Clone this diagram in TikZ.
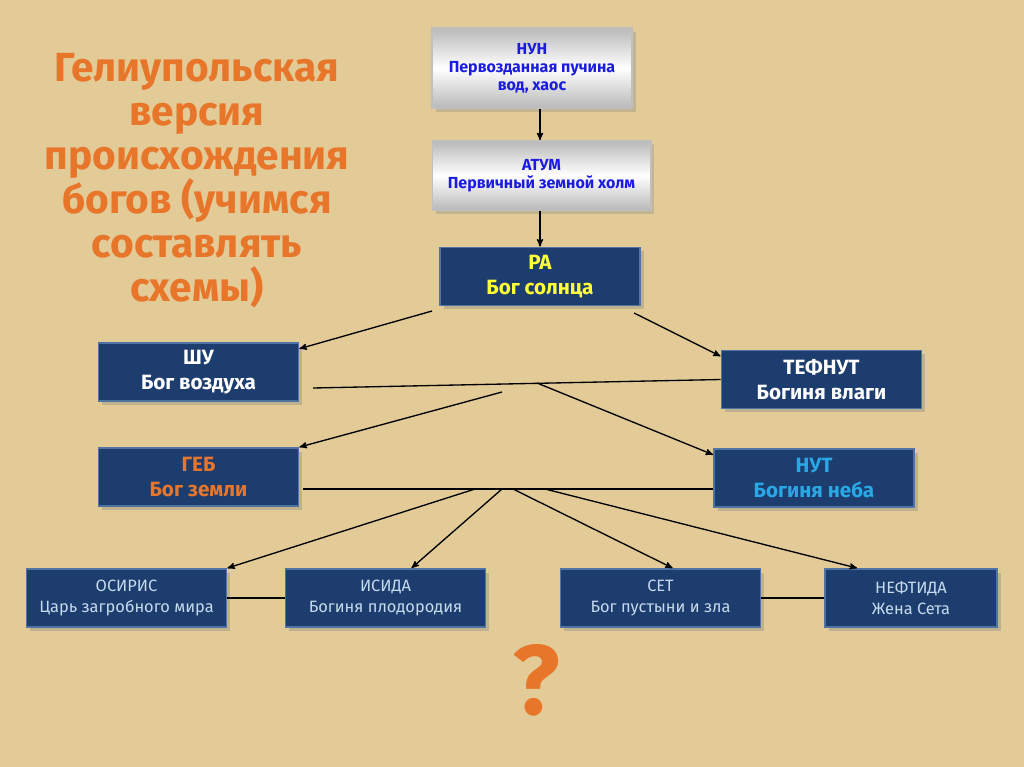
\documentclass[tikz,border=0pt]{standalone}
\usepackage{fontspec}
\setmainfont{Fira Sans}
\usetikzlibrary{positioning,arrows,calc,shadows}
\definecolor{papyrus}{HTML}{E2CB97}
\definecolor{godblue}{HTML}{1D3D6E}
\definecolor{godrim}{HTML}{4F73A3}
\definecolor{orangetxt}{HTML}{E8762A}
\definecolor{skytxt}{HTML}{2AA8E6}
\definecolor{paletxt}{HTML}{C6DAEE}
\definecolor{sunyellow}{HTML}{FFFF3A}
\definecolor{inkblue}{HTML}{1C1CE0}

\begin{document}
\begin{tikzpicture}[x=0.75pt, y=-0.75pt, >=stealth', line width=1pt,
godbox/.style={fill=godblue, draw=godrim, line width=1.4pt, align=center, text centered,
  minimum width=150pt, minimum height=43.5pt, inner sep=2pt,
  font=\fontsize{15.5}{19}\selectfont\bfseries, drop shadow={opacity=.35}},
lowbox/.style={godbox, text=paletxt, font=\fontsize{12.3}{16}\selectfont},
greybox/.style={draw=gray!50, line width=1pt, top color=gray!55, bottom color=gray!55,
  middle color=white, align=center, text=inkblue, inner sep=2pt,
  font=\fontsize{12}{13.5}\selectfont\bfseries, drop shadow={opacity=.3}},
headline/.style={align=center, text=orangetxt, font=\fontsize{30.5}{33}\selectfont\bfseries}
]
\fill[papyrus] (0,0) rectangle (1024,767);

\node (title) [headline] at (197,181) {Гелиупольская\\версия\\происхождения\\богов (учимся\\составлять\\схемы)};

\node (nun) [greybox, minimum width=150pt, minimum height=60pt] at (532,68) {НУН\\Первозданная пучина\\вод, хаос};
\node (atum) [greybox, minimum width=164pt, minimum height=52pt] at (541.5,175.5) {АТУМ\\Первичный земной холм};
\node (ra) [godbox, text=sunyellow] at (540,276.5) {РА\\Бог солнца};

\node (shu) [godbox, text=white] at (198.5,372) {ШУ\\Бог воздуха};
\node (tefnut) [godbox, text=white] at (821.5,379.5) {ТЕФНУТ\\Богиня влаги};
\node (geb) [godbox, text=orangetxt] at (198.5,477) {ГЕБ\\Бог земли};
\node (nut) [godbox, text=skytxt] at (814,478) {НУТ\\Богиня неба};

\node (osiris) [lowbox] at (126.5,598) {ОСИРИС\\Царь загробного мира};
\node (isida) [lowbox] at (385.5,598) {ИСИДА\\Богиня плодородия};
\node (set) [lowbox] at (660.5,598) {СЕТ\\Бог пустыни и зла};
\node (neftida) [lowbox, minimum width=129pt] at (911,598) {НЕФТИДА\\Жена Сета};

\node (ask) [text=orangetxt, font=\fontsize{74}{74}\selectfont\bfseries] at (536,680) {?};

% free ends of the links
\coordinate (ra-l) at (432,311);
\coordinate (ra-r) at (634,313);
\coordinate (shu-r) at (313,388);
\coordinate (pair-a) at (502,392);
\coordinate (pair-b) at (537,383);
\coordinate (geb-r) at (303,489);
\coordinate (fan-a) at (475,489);
\coordinate (fan-b) at (502,489);
\coordinate (fan-c) at (513,489);
\coordinate (fan-d) at (545,489);

\draw[->] (nun.south -| ra.north) -- (atum.north -| ra.north);
\draw[->] (atum.south -| ra.north) -- (ra.north);
\draw[->] (ra-l) -- (shu.13);
\draw[->] (ra-r) -- (tefnut.167);
\draw (shu-r) -- (tefnut.west);
\draw[->] (pair-a) -- (geb.north east);
\draw[->] (pair-b) -- (nut.167);
\draw (geb-r) -- (geb-r -| nut.west);
\draw[->] (fan-a) -- (osiris.north east);
\draw[->] (fan-b) -- (isida.49);
\draw[->] (fan-c) -- (set.68);
\draw[->] (fan-d) -- (neftida.151);
\draw (osiris) -- (isida);
\draw (set) -- (neftida);

\end{tikzpicture}
\end{document}
